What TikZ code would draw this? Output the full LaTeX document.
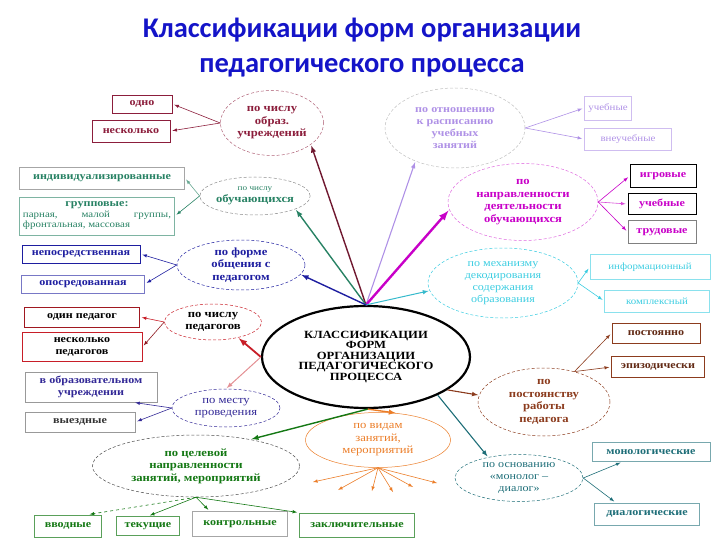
\documentclass[tikz,border=0pt]{standalone}
\usepackage{fontspec}
\setmainfont[FakeStretch=1.15]{Liberation Serif}
\newfontfamily\titlefont{Carlito}
\usepackage{xcolor}
\usepackage{tikz}
\usetikzlibrary{shapes,arrows}

\definecolor{TitleBlue}{RGB}{20,20,200}
\definecolor{UchCol}{RGB}{140,30,60}
\definecolor{RasCol}{RGB}{175,145,230}
\definecolor{ObuCol}{RGB}{40,130,100}
\definecolor{NapCol}{RGB}{200,0,200}
\definecolor{ForCol}{RGB}{30,30,160}
\definecolor{DekCol}{RGB}{60,205,225}
\definecolor{PedCol}{RGB}{200,30,40}
\definecolor{MesCol}{RGB}{50,40,150}
\definecolor{CelCol}{RGB}{20,120,20}
\definecolor{VidCol}{RGB}{235,125,40}
\definecolor{PosCol}{RGB}{140,60,30}
\definecolor{DiaCol}{RGB}{30,110,120}

\tikzset{%Global config
	>=latex,
	color = black ,
	%Styles
	Ell/.style={
		ellipse,
		draw,
		densely dashed,
		line width=0.5pt,
		inner sep=0pt,
		align=center,
		font=\fontsize{11}{12.5}\selectfont\bfseries,
	},
	Box/.style={
		rectangle,
		draw,
		line width=0.7pt,
		inner sep=1pt,
		align=center,
		font=\fontsize{10.5}{11.5}\selectfont\bfseries,
	},
	Ray/.style={
		->,
		line width=1.4pt,
		shorten >=1pt,
	},
	Arr/.style={
		->,
		line width=0.6pt,
		shorten >=2pt,
	}
}

\begin{document}
\begin{tikzpicture}[x=1pt,y=-1pt]
		\useasboundingbox (0,0) rectangle (720,540);
		
		% Title
		\node[font=\titlefont\bfseries\fontsize{28.5}{35}\selectfont, text=TitleBlue, align=center] (title) at (362,48) {Классификации форм организации\\педагогического процесса};
		
		% Centre
		\node[ellipse, draw, line width=2.2pt, minimum width=208, minimum height=102, inner sep=0pt, align=center, font=\fontsize{11}{10.5}\selectfont\bfseries] (M) at (366,357) {КЛАССИФИКАЦИИ\\ФОРМ\\ОРГАНИЗАЦИИ\\ПЕДАГОГИЧЕСКОГО\\ПРОЦЕССА};
		
		% Groups
		\node[Ell, draw=UchCol!70, text=UchCol, minimum width=103, minimum height=65] (e1) at (272,123) {по числу\\образ.\\учреждений};
		\node[Ell, draw=black!25, text=RasCol, minimum width=140, minimum height=80, font=\fontsize{10.5}{12}\selectfont\bfseries] (e2) at (455,128) {по отношению\\к расписанию\\учебных\\занятий};
		\node[Ell, draw=black!45, text=ObuCol, minimum width=100, minimum height=38] (e3) at (255,196) {{\mdseries\fontsize{8}{9}\selectfont по числу}\\обучающихся};
		\node[Ell, draw=NapCol!60, text=NapCol, minimum width=150, minimum height=77] (e4) at (523,202) {по\\направленности\\деятельности\\обучающихся};
		\node[Ell, draw=ForCol, text=ForCol, minimum width=128, minimum height=50] (e5) at (241,265) {по форме\\общения с\\педагогом};
		\node[Ell, draw=DekCol, text=DekCol, minimum width=150, minimum height=70, font=\fontsize{10.5}{12}\selectfont] (e6) at (503,283) {по механизму\\декодирования\\содержания\\образования};
		\node[Ell, draw=PedCol, text=black, minimum width=97, minimum height=36] (e7) at (213,322) {по числу\\педагогов};
		\node[Ell, draw=MesCol, text=MesCol, minimum width=108, minimum height=38, font=\fontsize{11}{12.5}\selectfont] (e8) at (226,408) {по месту\\проведения};
		\node[Ell, draw=black!70, text=CelCol, minimum width=207, minimum height=62] (e9) at (196,466) {по целевой\\направленности\\занятий, мероприятий};
		\node[Ell, solid, draw=VidCol, text=VidCol, minimum width=145, minimum height=55, font=\fontsize{11}{12.5}\selectfont] (e10) at (378,440) {по видам\\занятий,\\мероприятий};
		\node[Ell, draw=PosCol, text=PosCol, minimum width=132, minimum height=68] (e11) at (544,402) {по\\постоянству\\работы\\педагога};
		\node[Ell, draw=DiaCol, text=DiaCol, minimum width=128, minimum height=47, font=\fontsize{10.5}{12}\selectfont] (e12) at (519,478) {по основанию\\«монолог –\\диалог»};
		
		% Kinds
		\node[Box, draw=UchCol, text=UchCol, minimum width=60, minimum height=18] (b1) at (142,104) {одно};
		\node[Box, draw=UchCol, text=UchCol, minimum width=78, minimum height=22] (b2) at (131,131) {несколько};
		\node[Box, draw=RasCol!60, text=RasCol, minimum width=47, minimum height=24, font=\fontsize{9.5}{11}\selectfont] (b3) at (608,108) {учебные};
		\node[Box, draw=RasCol!60, text=RasCol, minimum width=87, minimum height=22, font=\fontsize{9.5}{11}\selectfont] (b4) at (628,139) {внеучебные};
		\node[Box, draw=black!35, text=ObuCol, minimum width=165, minimum height=22] (b5) at (102,178) {индивидуализированные};
		\node[Box, draw=ObuCol!60, text=ObuCol, minimum width=155, minimum height=38, font=\fontsize{9.5}{10.5}\selectfont] (b6) at (97,216) {{\bfseries\fontsize{10.5}{11}\selectfont групповые:}\\\mdseries\hbox to 148pt{парная,\hfill малой\hfill группы,}\\\mdseries\hbox to 148pt{фронтальная, массовая\hfill}};
		\node[Box, draw=black, text=NapCol, minimum width=66, minimum height=23] (b7) at (663,176) {игровые};
		\node[Box, draw=black, text=NapCol, minimum width=68, minimum height=21] (b8) at (662,204) {учебные};
		\node[Box, draw=black!50, text=NapCol, minimum width=68, minimum height=23] (b9) at (662,232) {трудовые};
		\node[Box, draw=ForCol, text=ForCol, minimum width=118, minimum height=18] (b10) at (81,254) {непосредственная};
		\node[Box, draw=ForCol!60, text=ForCol, minimum width=123, minimum height=18] (b11) at (83,284) {опосредованная};
		\node[Box, draw=DekCol!60, text=DekCol, minimum width=120, minimum height=25, font=\fontsize{9.5}{11}\selectfont] (b12) at (650,267) {информационный};
		\node[Box, draw=DekCol!60, text=DekCol, minimum width=105, minimum height=22, font=\fontsize{9.5}{11}\selectfont] (b13) at (657,301) {комплексный};
		\node[Box, draw=PedCol!80!black, text=black, minimum width=115, minimum height=20] (b14) at (82,317) {один педагог};
		\node[Box, draw=PedCol, text=black, minimum width=120, minimum height=29] (b15) at (82,347) {несколько\\педагогов};
		\node[Box, draw=black!40, text=MesCol, minimum width=132, minimum height=30] (b16) at (91,387) {в образовательном\\учреждении};
		\node[Box, draw=black!40, text=black!80, minimum width=110, minimum height=20] (b17) at (80,422) {выездные};
		\node[Box, draw=PosCol, text=PosCol!70!black, minimum width=88, minimum height=20] (b18) at (656,333) {постоянно};
		\node[Box, draw=PosCol, text=PosCol!70!black, minimum width=93, minimum height=21] (b19) at (658,367) {эпизодически};
		\node[Box, draw=DiaCol!60, text=DiaCol, minimum width=118, minimum height=19] (b20) at (651,452) {монологические};
		\node[Box, draw=DiaCol!60, text=DiaCol, minimum width=105, minimum height=22] (b21) at (647,514) {диалогические};
		\node[Box, draw=CelCol!70, text=CelCol, minimum width=67, minimum height=22] (b22) at (68,526) {вводные};
		\node[Box, draw=CelCol!70, text=CelCol, minimum width=63, minimum height=19] (b23) at (148,526) {текущие};
		\node[Box, draw=black!35, text=CelCol, minimum width=95, minimum height=25] (b24) at (240,524) {контрольные};
		\node[Box, draw=CelCol!70, text=CelCol, minimum width=115, minimum height=24] (b25) at (357,525) {заключительные};
		
		% Rays from the centre
		\coordinate (hub) at (M.north);
		\draw[Ray, UchCol!80!black] (hub) -- (e1.-29);
		\draw[Ray, RasCol, line width=1.1pt] (hub) -- (e2.-140);
		\draw[Ray, NapCol, line width=2.4pt] (hub) -- (e4.-174);
		\draw[Ray, DekCol!80!DiaCol, line width=1pt] (hub) -- (e6.-174);
		\draw[Ray, ObuCol] (hub) -- (e3.-18);
		\draw[Ray, ForCol] (hub) -- (e5.-9);
		\draw[Ray, PedCol, line width=1.8pt] (M.west) -- (e7.-32);
		\draw[Ray, PedCol!50, line width=1pt] (M.west) -- (e8.90);
		\draw[Ray, CelCol] (M.-88) -- (e9.26);
		\draw[Ray, VidCol] (M.-88) -- (e10.55);
		\draw[Ray, PosCol, line width=1.1pt] (M.-22) -- (e11.174);
		\draw[Ray, DiaCol, line width=1.1pt] (M.-28) -- (e12.146);
		
		% Arrows to the kinds
		\draw[Arr, UchCol] (e1.west) -- (b1.east);
		\draw[Arr, UchCol] (e1.west) -- (b2.east);
		\draw[Arr, RasCol] (e2.east) -- (b3.west);
		\draw[Arr, RasCol] (e2.east) -- (b4.west);
		\draw[Arr, ObuCol!70] (e3.west) -- (b5.east);
		\draw[Arr, ObuCol] (e3.west) -- (b6.east);
		\draw[Arr, NapCol] (e4.east) -- (b7.west);
		\draw[Arr, NapCol!70] (e4.east) -- (b8.west);
		\draw[Arr, NapCol] (e4.east) -- (b9.west);
		\draw[Arr, ForCol] (e5.west) -- (b10.east);
		\draw[Arr, ForCol] (e5.west) -- (b11.east);
		\draw[Arr, DekCol] (e6.east) -- (b12.west);
		\draw[Arr, DekCol] (e6.east) -- (b13.west);
		\draw[Arr, PedCol] (e7.west) -- (b14.east);
		\draw[Arr, PedCol!70!black] (e7.west) -- (b15.east);
		\draw[Arr, MesCol] (e8.west) -- (b16.-20);
		\draw[Arr, MesCol] (e8.west) -- (b17.east);
		\draw[Arr, CelCol, dashed] (e9.south) -- (b22.30);
		\draw[Arr, CelCol] (e9.south) -- (b23.north);
		\draw[Arr, CelCol] (e9.south) -- (b24.157);
		\draw[Arr, CelCol] (e9.south) -- (b25.north west);
		\draw[Arr, PosCol] (e11.45) -- (b18.west);
		\draw[Arr, PosCol] (e11.45) -- (b19.west);
		\draw[Arr, DiaCol] (e12.east) -- (b20.199);
		\draw[Arr, DiaCol] (e12.east) -- (b21.160);
		
		% Kinds of lessons: free ends
		\foreach \i/\x/\y in {1/313/482, 2/338/490, 3/372/491, 4/393/492, 5/413/487, 6/437/483}
			\coordinate (v\i) at (\x,\y);
		\foreach \i in {1,...,6}
			\draw[Arr, VidCol, shorten >=0pt] (e10.south) -- (v\i);
	\end{tikzpicture}
\end{document}
